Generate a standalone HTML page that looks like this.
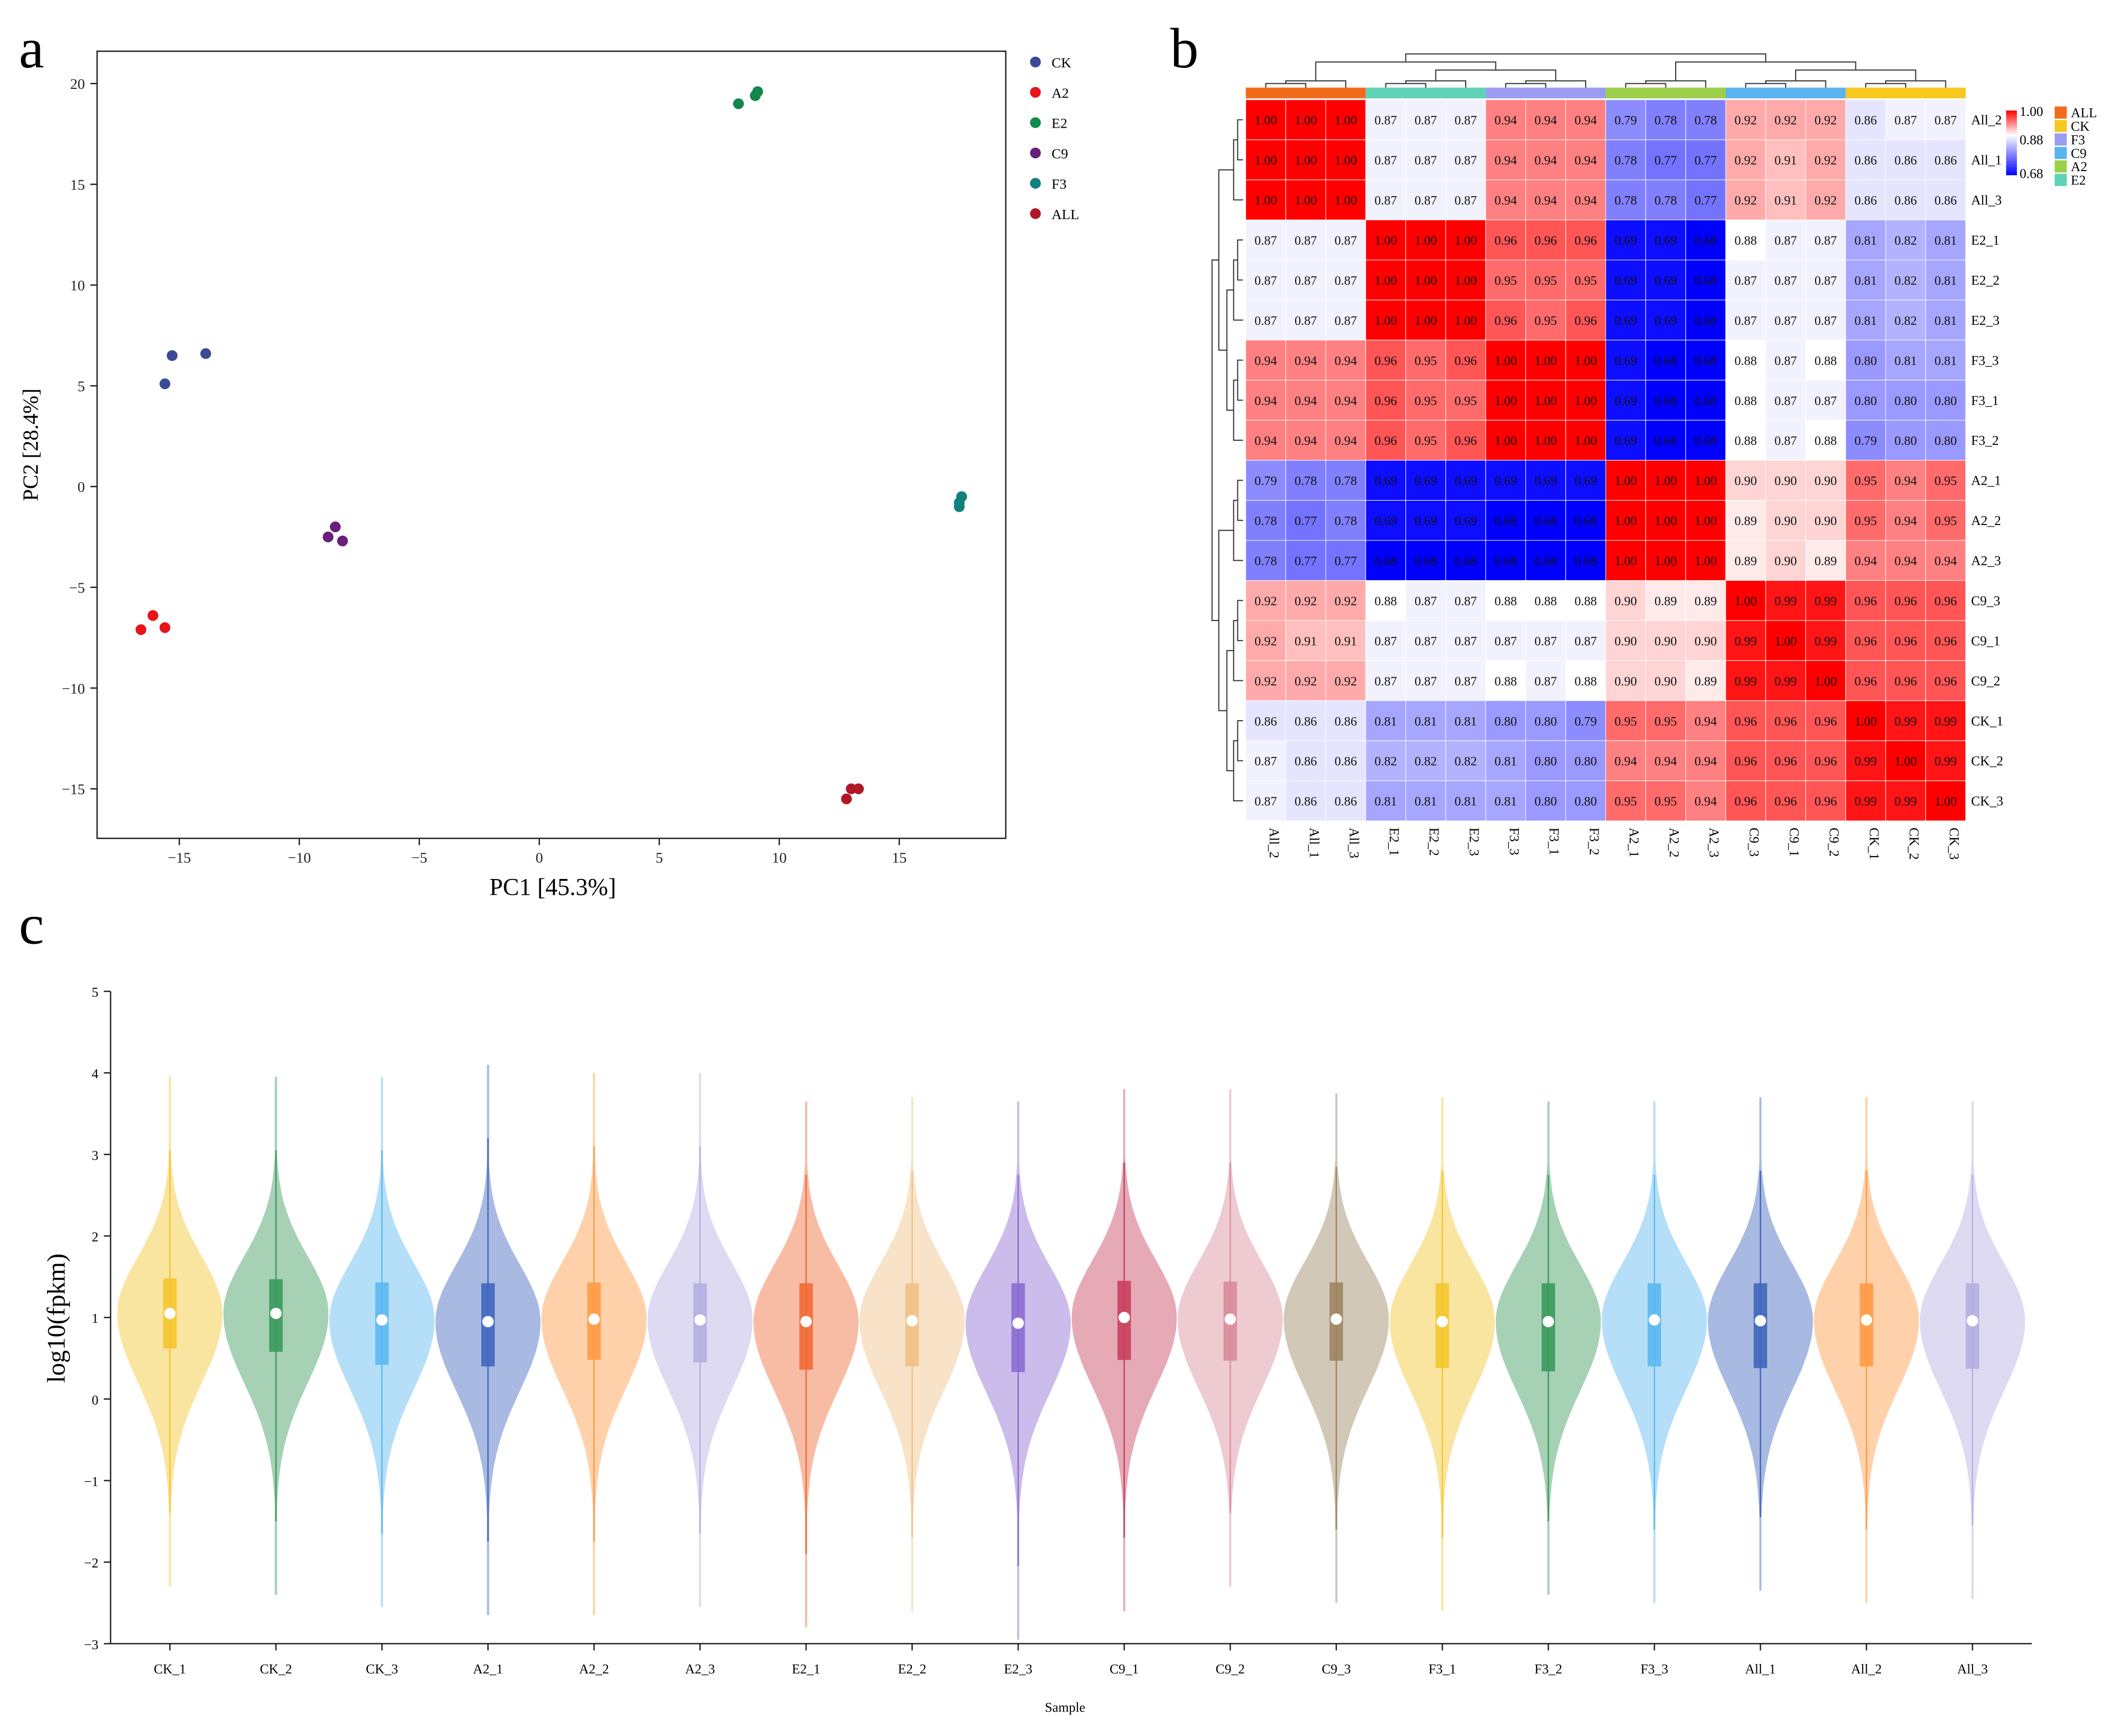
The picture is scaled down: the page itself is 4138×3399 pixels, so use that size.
<!DOCTYPE html>
<html><head><meta charset="utf-8"><style>
html,body{margin:0;padding:0;background:#fff;}
svg{display:block;font-family:"Liberation Serif",serif;}
</style></head><body>
<svg id="fig" xmlns="http://www.w3.org/2000/svg" width="4138" height="3399" viewBox="0 0 1568 1288">
<rect width="1568" height="1288" fill="#fff"/>
<text x="14" y="50" font-size="42">a</text>
<text x="868" y="50" font-size="42">b</text>
<text x="14" y="700" font-size="42">c</text>
<g id="pca"></g>
<g id="heat"></g>
<g id="vio"></g>
</svg>
<script>
const NS="http://www.w3.org/2000/svg";
function mk(p,t,a,txt){const e=document.createElementNS(NS,t);for(const k in a)e.setAttribute(k,a[k]);if(txt!==undefined)e.textContent=txt;p.appendChild(e);return e;}

// ---------- PCA data ----------
const pcaGroups=["CK","A2","E2","C9","F3","ALL"];
const pcaColors=["#3b4a94","#e8141b","#12884a","#6a1f7a","#138080","#b0182a"];
const pcaX=[[-15.6,-15.3,-13.9],[-16.6,-16.1,-15.6],[8.3,9.0,9.1],[-8.8,-8.5,-8.2],[17.5,17.6,17.5],[12.8,13.0,13.3]];
const pcaY=[[5.1,6.5,6.6],[-7.1,-6.4,-7.0],[19.0,19.4,19.6],[-2.5,-2.0,-2.7],[-1.0,-0.5,-0.8],[-15.5,-15.0,-15.0]];
const pcaXTicks=[-15,-10,-5,0,5,10,15];
const pcaYTicks=[-15,-10,-5,0,5,10,15,20];

// ---------- Heatmap data ----------
const hmRows=["All_2","All_1","All_3","E2_1","E2_2","E2_3","F3_3","F3_1","F3_2","A2_1","A2_2","A2_3","C9_3","C9_1","C9_2","CK_1","CK_2","CK_3"];
const hmCols=hmRows.slice();
const hmVals=[
[1.00,1.00,1.00,.87,.87,.87,.94,.94,.94,.79,.78,.78,.92,.92,.92,.86,.87,.87],
[1.00,1.00,1.00,.87,.87,.87,.94,.94,.94,.78,.77,.77,.92,.91,.92,.86,.86,.86],
[1.00,1.00,1.00,.87,.87,.87,.94,.94,.94,.78,.78,.77,.92,.91,.92,.86,.86,.86],
[.87,.87,.87,1.00,1.00,1.00,.96,.96,.96,.69,.69,.68,.88,.87,.87,.81,.82,.81],
[.87,.87,.87,1.00,1.00,1.00,.95,.95,.95,.69,.69,.68,.87,.87,.87,.81,.82,.81],
[.87,.87,.87,1.00,1.00,1.00,.96,.95,.96,.69,.69,.68,.87,.87,.87,.81,.82,.81],
[.94,.94,.94,.96,.95,.96,1.00,1.00,1.00,.69,.68,.68,.88,.87,.88,.80,.81,.81],
[.94,.94,.94,.96,.95,.95,1.00,1.00,1.00,.69,.68,.68,.88,.87,.87,.80,.80,.80],
[.94,.94,.94,.96,.95,.96,1.00,1.00,1.00,.69,.68,.68,.88,.87,.88,.79,.80,.80],
[.79,.78,.78,.69,.69,.69,.69,.69,.69,1.00,1.00,1.00,.90,.90,.90,.95,.94,.95],
[.78,.77,.78,.69,.69,.69,.68,.68,.68,1.00,1.00,1.00,.89,.90,.90,.95,.94,.95],
[.78,.77,.77,.68,.68,.68,.68,.68,.68,1.00,1.00,1.00,.89,.90,.89,.94,.94,.94],
[.92,.92,.92,.88,.87,.87,.88,.88,.88,.90,.89,.89,1.00,.99,.99,.96,.96,.96],
[.92,.91,.91,.87,.87,.87,.87,.87,.87,.90,.90,.90,.99,1.00,.99,.96,.96,.96],
[.92,.92,.92,.87,.87,.87,.88,.87,.88,.90,.90,.89,.99,.99,1.00,.96,.96,.96],
[.86,.86,.86,.81,.81,.81,.80,.80,.79,.95,.95,.94,.96,.96,.96,1.00,.99,.99],
[.87,.86,.86,.82,.82,.82,.81,.80,.80,.94,.94,.94,.96,.96,.96,.99,1.00,.99],
[.87,.86,.86,.81,.81,.81,.81,.80,.80,.95,.95,.94,.96,.96,.96,.99,.99,1.00]];
const hmGroupNames=["ALL","E2","F3","A2","C9","CK"];
const hmGroupColors=["#f26b1d","#5fd3b5","#9b9cf0","#9ad04a","#5ab4ef","#f8c81e"];
const hmLegendNames=["ALL","CK","F3","C9","A2","E2"];
const hmLegendColors=["#f26b1d","#f8c81e","#9b9cf0","#5ab4ef","#9ad04a","#5fd3b5"];

// ---------- Violin data ----------
const vSamples=["CK_1","CK_2","CK_3","A2_1","A2_2","A2_3","E2_1","E2_2","E2_3","C9_1","C9_2","C9_3","F3_1","F3_2","F3_3","All_1","All_2","All_3"];
const vMedian=[1.05,1.05,0.97,0.95,0.98,0.97,0.95,0.96,0.93,1.00,0.98,0.98,0.95,0.95,0.97,0.96,0.97,0.96];
const vQ1=[0.62,0.58,0.42,0.40,0.48,0.45,0.36,0.40,0.33,0.48,0.47,0.47,0.38,0.34,0.40,0.38,0.40,0.37];
const vQ3=[1.48,1.47,1.43,1.42,1.43,1.42,1.42,1.42,1.42,1.45,1.44,1.43,1.42,1.42,1.42,1.42,1.42,1.42];
const vMin=[-2.3,-2.4,-2.55,-2.65,-2.65,-2.55,-2.8,-2.6,-2.95,-2.6,-2.3,-2.5,-2.6,-2.4,-2.5,-2.35,-2.5,-2.45];
const vMax=[3.95,3.95,3.95,4.1,4.0,4.0,3.65,3.7,3.65,3.8,3.8,3.75,3.7,3.65,3.65,3.7,3.7,3.65];
const vColors=["#f5c52c","#3a9a5c","#5bb8f0","#3f66bd","#ff9a45","#b5aee2","#f06a35","#f0c085","#8b6bd3","#c8405e","#d98b98","#9c8562","#f5c52c","#3a9a5c","#5bb8f0","#3f66bd","#ff9a45","#b5aee2"];
const vTicks=[-3,-2,-1,0,1,2,3,4,5];

// ================= PCA =================
(function(){
const g=document.getElementById('pca');
const X0=72,X1=746,Y0=38,Y1=622;
const sx=v=>400+v*17.8, sy=v=>361-v*14.95;
const fr=mk(g,'rect',{x:X0,y:Y0,width:X1-X0,height:Y1-Y0,fill:'none',stroke:'#222','stroke-width':1});

pcaXTicks.forEach(t=>{const x=sx(t);mk(g,'line',{x1:x,x2:x,y1:Y1,y2:Y1+5,stroke:'#222'});
 const e=mk(g,'text',{x:x,y:Y1+18,'font-size':11,'text-anchor':'middle',fill:'#222'},(t<0?'\u2212':'')+Math.abs(t));
 });
pcaYTicks.forEach(t=>{const y=sy(t);mk(g,'line',{x1:X0-5,x2:X0,y1:y,y2:y,stroke:'#222'});
 const e=mk(g,'text',{x:X0-9,y:y+4,'font-size':11,'text-anchor':'end',fill:'#222'},(t<0?'\u2212':'')+Math.abs(t));
 });
let e=mk(g,'text',{x:410,y:664,'font-size':18,'text-anchor':'middle'},'PC1 [45.3%]');

e=mk(g,'text',{x:28,y:330,'font-size':16,'text-anchor':'middle',transform:'rotate(-90 28 330)'},'PC2 [28.4%]');

pcaGroups.forEach((n,i)=>{
 pcaX[i].forEach((xv,j)=>{const c=mk(g,'circle',{cx:sx(xv),cy:sy(pcaY[i][j]),r:4,fill:pcaColors[i]});
  });
 const ly=46+i*22.5;
 const c=mk(g,'circle',{cx:768,cy:ly,r:4,fill:pcaColors[i]});
 
 const t=mk(g,'text',{x:780,y:ly+4,'font-size':10.5},n);
 
});
})();

// ================= Heatmap =================
(function(){
const g=document.getElementById('heat');
const HX=924,HY=74,cw=534/18,ch=535/18;
function col(v){
 let r,gg,b;
 if(v>=0.88){const t=Math.min(1,(v-0.88)/0.12);r=255;gg=Math.round(255*(1-t));b=Math.round(255*(1-t));}
 else{const t=Math.min(1,(0.88-v)/0.20);r=Math.round(255*(1-t));gg=Math.round(255*(1-t));b=255;}
 return `rgb(${r},${gg},${b})`;
}
hmRows.forEach((rn,i)=>{
 hmCols.forEach((cn,j)=>{
  const v=hmVals[i][j];
  const r=mk(g,'rect',{x:HX+j*cw,y:HY+i*ch,width:cw,height:ch,fill:col(v),stroke:'#fff','stroke-width':0.4});
  
  const t=mk(g,'text',{x:HX+(j+0.5)*cw,y:HY+(i+0.5)*ch+3.5,'font-size':9.5,'text-anchor':'middle',fill:'#111'},v.toFixed(2));
  
 });
 const t=mk(g,'text',{x:HX+534+4,y:HY+(i+0.5)*ch+3.5,'font-size':10},rn);
 
});
hmCols.forEach((cn,j)=>{
 const x=HX+(j+0.5)*cw+3,y=HY+535+5;
 const t=mk(g,'text',{x:x,y:y,'font-size':10,transform:`rotate(90 ${x} ${y})`},cn);
 
});
hmGroupNames.forEach((n,k)=>{
 const r=mk(g,'rect',{x:HX+k*3*cw,y:65,width:3*cw,height:8,fill:hmGroupColors[k]});
 
});
const defs=mk(g,'defs',{});
const lg=mk(defs,'linearGradient',{id:'cb',x1:0,y1:0,x2:0,y2:1});
mk(lg,'stop',{offset:'0','stop-color':'#ff0000'});mk(lg,'stop',{offset:'0.38','stop-color':'#ffffff'});mk(lg,'stop',{offset:'1','stop-color':'#0000ff'});
let r=mk(g,'rect',{x:1488,y:82,width:8,height:48,fill:'url(#cb)'});

[['1.00',86],['0.88',107],['0.68',132]].forEach(a=>{const t=mk(g,'text',{x:1498,y:a[1],'font-size':10},a[0]);
 });
hmLegendNames.forEach((n,k)=>{const y=79+k*10;
 const rr=mk(g,'rect',{x:1524,y:y,width:9,height:9,fill:hmLegendColors[k]});
 
 const t=mk(g,'text',{x:1536,y:y+8,'font-size':10},n);
 });
const cx=j=>HX+(j+0.5)*cw, cy=i=>HY+(i+0.5)*ch;
function top(a,b,h,ya,yb){return `M${a},${ya}V${h}H${b}V${yb}`;}
let d='';
[[0,1,2],[3,4,5],[6,7,8],[9,10,11],[12,13,14],[15,16,17]].forEach(t=>{
 d+=top(cx(t[0]),cx(t[1]),62,65,65);const m=(cx(t[0])+cx(t[1]))/2;d+=top(m,cx(t[2]),60,62,65);});
const gc=k=>(cx(3*k)+cx(3*k+1))/2*0.5+cx(3*k+2)*0.5;
d+=top(gc(1),gc(2),52,60,60);
d+=top(gc(0),(gc(1)+gc(2))/2,46,60,52);
d+=top(gc(4),gc(5),52,60,60);
d+=top(gc(3),(gc(4)+gc(5))/2,46,60,52);
d+=top((gc(0)+(gc(1)+gc(2))/2)/2,(gc(3)+(gc(4)+gc(5))/2)/2,40,46,46);
function lft(a,b,w,xa,xb){return `M${xa},${a}H${w}V${b}H${xb}`;}
[[0,1,2],[3,4,5],[6,7,8],[9,10,11],[12,13,14],[15,16,17]].forEach(t=>{
 d+=lft(cy(t[0]),cy(t[1]),918,922,922);const m=(cy(t[0])+cy(t[1]))/2;d+=lft(m,cy(t[2]),915,918,922);});
const gr=k=>((cy(3*k)+cy(3*k+1))/2+cy(3*k+2))/2;
d+=lft(gr(1),gr(2),910,915,915);
d+=lft(gr(0),(gr(1)+gr(2))/2,904,915,910);
d+=lft(gr(4),gr(5),910,915,915);
d+=lft(gr(3),(gr(4)+gr(5))/2,904,915,910);
d+=lft((gr(0)+(gr(1)+gr(2))/2)/2,(gr(3)+(gr(4)+gr(5))/2)/2,899,904,904);
const p=mk(g,'path',{d:d,fill:'none',stroke:'#333','stroke-width':0.8});

})();

// ================= Violin =================
(function(){
const g=document.getElementById('vio');
const sy=v=>1038-v*60.5, X0=82,X1=1507;
const cxp=i=>126+i*78.65;
let e=mk(g,'line',{x1:X0,x2:X0,y1:sy(5),y2:sy(-3),stroke:'#222'});

e=mk(g,'line',{x1:X0,x2:X1,y1:sy(-3),y2:sy(-3),stroke:'#222'});

vTicks.forEach(t=>{mk(g,'line',{x1:X0-5,x2:X0,y1:sy(t),y2:sy(t),stroke:'#222'});
 const a=mk(g,'text',{x:X0-9,y:sy(t)+4,'font-size':10,'text-anchor':'end'},(t<0?'\u2212':'')+Math.abs(t));
 });
e=mk(g,'text',{x:48,y:978,'font-size':19,'text-anchor':'middle',transform:'rotate(-90 48 978)'},'log10(fpkm)');

e=mk(g,'text',{x:790,y:1270,'font-size':10,'text-anchor':'middle'},'Sample');

vSamples.forEach((s,i)=>{
 const x=cxp(i),c=vColors[i],m=vMedian[i];
 mk(g,'line',{x1:x,x2:x,y1:sy(-3),y2:sy(-3)+5,stroke:'#222'});
 const tl=mk(g,'text',{x:x,y:sy(-3)+22,'font-size':10,'text-anchor':'middle'},s);
 
 const W=39,su=0.70,sd=0.85;
 const pts=[];const N=140;
 for(let k=0;k<=N;k++){const v=vMin[i]+(vMax[i]-vMin[i])*k/N;const s=v>m?su:sd;
  let w=W*Math.exp(-Math.pow((v-m)/s,2)/2);w=Math.max(w,0.8);pts.push([v,w]);}
 let d='M'+x+','+sy(vMin[i]);
 pts.forEach(p=>d+='L'+(x+p[1]).toFixed(1)+','+sy(p[0]).toFixed(1));
 for(let k=pts.length-1;k>=0;k--)d+='L'+(x-pts[k][1]).toFixed(1)+','+sy(pts[k][0]).toFixed(1);
 d+='Z';
 const vp=mk(g,'path',{d:d,fill:c,'fill-opacity':0.45,stroke:'none'});
 
 const wl=mk(g,'line',{x1:x,x2:x,y1:sy(vMin[i]+0.9),y2:sy(vMax[i]-0.9),stroke:c,'stroke-width':1});
 
 const bx=mk(g,'rect',{x:x-5,y:sy(vQ3[i]),width:10,height:sy(vQ1[i])-sy(vQ3[i]),fill:c,'fill-opacity':0.9});
 
 const md=mk(g,'circle',{cx:x,cy:sy(m),r:4.2,fill:'#fff'});
 
});
})();
</script>
</body></html>
